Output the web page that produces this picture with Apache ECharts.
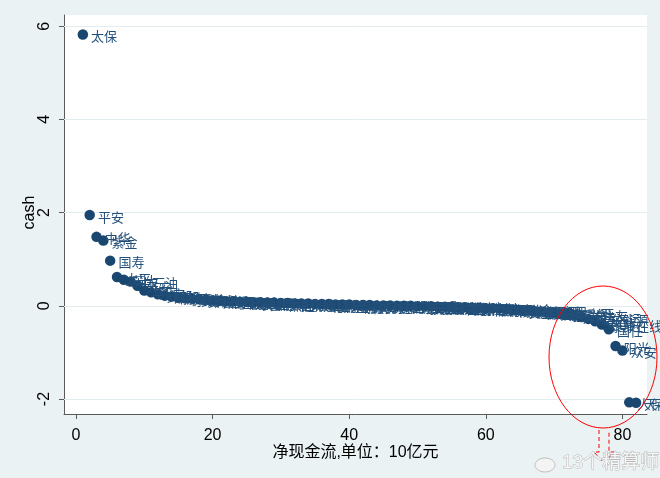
<!DOCTYPE html>
<html>
<head>
<meta charset="utf-8">
<script src="https://cdn.jsdelivr.net/npm/echarts@6/dist/echarts.min.js"></script>
<style>
html,body{margin:0;padding:0;background:#EAF2F3;}
#c{width:660px;height:478px;}
</style>
</head>
<body>
<div id="c"></div>
<script>
// rank of each company (x)
const ranks = [1,2,3,4,5,6,7,8,9,10,11,12,13,14,15,16,17,18,19,20,21,22,23,24,25,26,27,28,29,30,31,32,33,34,35,36,37,38,39,40,41,42,43,44,45,46,47,48,49,50,51,52,53,54,55,56,57,58,59,60,61,62,63,64,65,66,67,68,69,70,71,72,73,74,75,76,77,78,79,80,81,82];
// cash (net cash flow, 10亿元)
const cash = [5.82,1.95,1.48,1.40,0.97,0.62,0.56,0.52,0.43,0.33,0.29,0.25,0.22,0.20,0.18,0.16,0.15,0.14,0.13,0.12,0.11,0.10,0.10,0.09,0.09,0.08,0.08,0.07,0.07,0.06,0.06,0.05,0.05,0.05,0.04,0.04,0.04,0.03,0.03,0.03,0.02,0.02,0.02,0.01,0.01,0.01,0.00,0.00,0.00,-0.01,-0.01,-0.01,-0.02,-0.02,-0.02,-0.03,-0.03,-0.04,-0.04,-0.05,-0.05,-0.06,-0.07,-0.08,-0.09,-0.10,-0.11,-0.12,-0.14,-0.15,-0.17,-0.19,-0.21,-0.24,-0.28,-0.33,-0.40,-0.50,-0.86,-0.96,-2.07,-2.08];
// company labels
const names = ["太保","平安","中华","紫金","国寿","太平","英大","中石油","天安","华安","永安","安邦","都邦","渤海","华泰","永诚","安信","安诚","大地","长安","鼎和","中银","国元","诚泰","泰山","安华","富德","亚太","前海","燕赵","中原","合众","久隆","长江","众诚","北部湾","恒邦","利宝","东海","华农","浙商","鑫安","黄河","海峡","珠峰","建信","中航安盟","三星","美亚","东京海上","安联","苏黎世","爱和谊","日本财产","现代","国泰","史带","劳合社","中意","信利","太阳联合","锦泰","华海","易安","安盛天平","铁路自保","中路","融盛","中煤","日本兴亚","乐爱金","三井住友","大家","中远海运","广东能源","安心","泰康在线","国任","阳光","众安","人保","天平"];
const xTicks = [0,20,40,60,80];
const yTicks = [-2,0,2,4,6];

const FONT = '"Liberation Sans","Noto Sans CJK SC",Arial,sans-serif';
const NAVY = '#1A476F';
const AXIS = '#5a5a5a';

const chart = echarts.init(document.getElementById('c'), null, {renderer:'canvas'});
const data = ranks.map((r,i)=>[r, cash[i], names[i]]);

chart.setOption({
  backgroundColor:'#EAF2F3',
  animation:false,
  textStyle:{fontFamily:FONT},
  grid:{left:64, right:13, top:15, bottom:64, show:true, backgroundColor:'#ffffff', borderWidth:0},
  xAxis:{
    type:'value', min:-1.76, max:83.6,
    axisLine:{show:true, onZero:false, lineStyle:{color:AXIS, width:1}},
    axisTick:{show:true, length:5, customValues:xTicks, lineStyle:{color:AXIS}},
    axisLabel:{customValues:xTicks, color:'#000', fontSize:16, margin:14, fontFamily:FONT},
    splitLine:{show:false},
    name:'净现金流,单位：10亿元', nameLocation:'middle', nameGap:31, nameMoveOverlap:false,
    nameTextStyle:{color:'#000', fontSize:16, fontFamily:FONT}
  },
  yAxis:{
    type:'value', min:-2.32, max:6.24,
    axisLine:{show:true, onZero:false, lineStyle:{color:AXIS, width:1}},
    axisTick:{show:true, length:5, customValues:yTicks, lineStyle:{color:AXIS}},
    axisLabel:{customValues:yTicks, color:'#000', fontSize:16, rotate:90, margin:11, fontFamily:FONT},
    splitLine:{show:false},
    name:'cash', nameLocation:'middle', nameGap:26, nameRotate:90, nameMoveOverlap:false,
    nameTextStyle:{color:'#000', fontSize:16, fontFamily:FONT, padding:[0,0,0,4]}
  },
  series:[{
    type:'scatter',
    data:data,
    symbol:'circle',
    symbolSize:10.5,
    itemStyle:{color:NAVY, opacity:1},
    label:{
      show:true, position:'right', distance:3, offset:[0,3],
      formatter:p=>p.data[2], color:'#23507a', fontSize:13, fontFamily:FONT
    },
    markLine:{
      silent:true, symbol:'none', z:1,
      label:{show:false},
      lineStyle:{color:'#e3ecef', type:'solid', width:1},
      data: yTicks.map(v=>({yAxis:v}))
    }
  }],
  graphic:[
    {type:'ellipse', shape:{cx:603, cy:357, rx:54, ry:71}, style:{fill:'none', stroke:'#ff0000', lineWidth:1}, z:100},
    {type:'polyline', shape:{points:[[599,430],[599,452],[594,452],[604,463],[614,452],[609,452],[609,430]]},
     style:{fill:'none', stroke:'#ff0000', lineWidth:1, lineDash:[4,3]}, z:100},
    {type:'ellipse', shape:{cx:545, cy:465, rx:10, ry:7}, style:{fill:'#f4f4f4', stroke:'#c0c0c0', lineWidth:1}, z:100},
    {type:'text', x:562, y:463, style:{text:'13个精算师', fontSize:19, fontFamily:FONT, fill:'#f6f6f6', stroke:'#b8b8b8', lineWidth:1, verticalAlign:'middle'}, z:100}
  ]
});
</script>
</body>
</html>
